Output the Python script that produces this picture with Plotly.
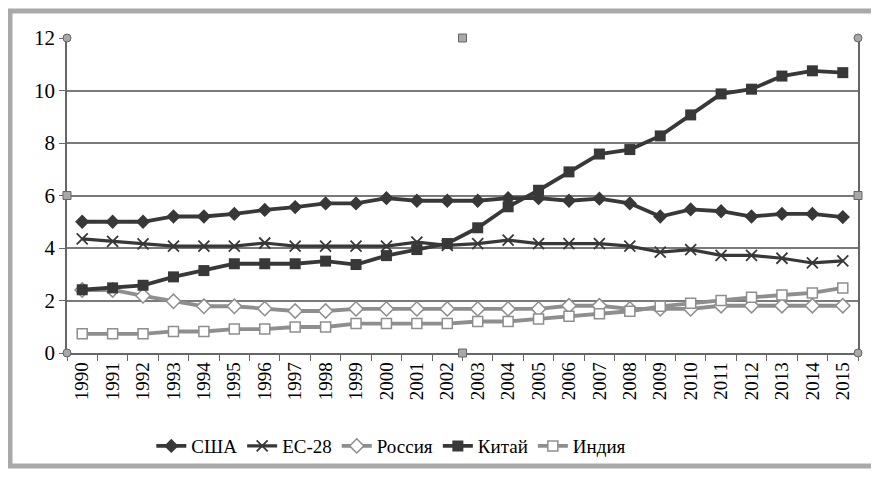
import plotly.graph_objects as go

years = [str(y) for y in range(1990, 2016)]
usa = [5.0, 5.0, 5.0, 5.2, 5.2, 5.3, 5.45, 5.56, 5.7, 5.7, 5.9, 5.8, 5.8, 5.8, 5.9, 5.9, 5.8, 5.88, 5.7, 5.2, 5.47, 5.4, 5.2, 5.3, 5.3, 5.18]
eu28 = [4.35, 4.25, 4.16, 4.07, 4.07, 4.07, 4.19, 4.07, 4.07, 4.07, 4.07, 4.22, 4.1, 4.17, 4.3, 4.17, 4.17, 4.17, 4.07, 3.84, 3.94, 3.72, 3.72, 3.61, 3.43, 3.51]
russia = [2.4, 2.4, 2.18, 1.97, 1.78, 1.78, 1.69, 1.6, 1.6, 1.68, 1.68, 1.68, 1.68, 1.68, 1.68, 1.68, 1.8, 1.8, 1.68, 1.68, 1.68, 1.8, 1.8, 1.8, 1.8, 1.8]
china = [2.41, 2.48, 2.58, 2.9, 3.14, 3.4, 3.4, 3.4, 3.5, 3.37, 3.71, 3.94, 4.17, 4.77, 5.57, 6.2, 6.9, 7.58, 7.75, 8.27, 9.07, 9.87, 10.05, 10.55, 10.75, 10.68]
india = [0.73, 0.73, 0.73, 0.82, 0.82, 0.91, 0.91, 0.99, 0.99, 1.12, 1.12, 1.12, 1.12, 1.2, 1.2, 1.3, 1.4, 1.5, 1.59, 1.78, 1.9, 2.0, 2.12, 2.21, 2.29, 2.48]

DARK = "#383838"
GRAY = "#8e8e8e"
SERIF = "Liberation Serif"

fig = go.Figure()
fig.add_trace(go.Scatter(x=years, y=usa, name="США", mode="lines+markers",
                         line=dict(color=DARK, width=3.8),
                         marker=dict(symbol="diamond", size=11, color=DARK)))
fig.add_trace(go.Scatter(x=years, y=eu28, name="ЕС-28", mode="lines+markers",
                         line=dict(color=DARK, width=3.2),
                         marker=dict(symbol="x-thin", size=11, color=DARK,
                                     line=dict(color=DARK, width=1.8))))
fig.add_trace(go.Scatter(x=years, y=russia, name="Россия", mode="lines+markers",
                         line=dict(color=GRAY, width=3.8),
                         marker=dict(symbol="diamond", size=11, color="white",
                                     line=dict(color=GRAY, width=1.5))))
fig.add_trace(go.Scatter(x=years, y=china, name="Китай", mode="lines+markers",
                         line=dict(color=DARK, width=3.8),
                         marker=dict(symbol="square", size=11, color=DARK)))
fig.add_trace(go.Scatter(x=years, y=india, name="Индия", mode="lines+markers",
                         line=dict(color=GRAY, width=3.8),
                         marker=dict(symbol="square", size=10, color="white",
                                     line=dict(color=GRAY, width=1.5))))

# plot area in window pixels: x 67..858, y 38..353 (width 791, height 315)
shapes = []
shapes.append(dict(type="rect", xref="paper", yref="paper",
                   x0=(10 - 67) / 791, x1=(876 - 67) / 791,
                   y0=(353 - 466) / 315, y1=(353 - 11) / 315,
                   line=dict(color="#a9a9a9", width=5), layer="below"))
for xx, yy, kind in [(0, 0, "circle"), (1, 0, "circle"), (0, 1, "circle"), (1, 1, "circle"),
                     (0.5, 0, "rect"), (0.5, 1, "rect"), (0, 0.5, "rect"), (1, 0.5, "rect")]:
    shapes.append(dict(type=kind, xref="x domain", yref="y domain",
                       xsizemode="pixel", ysizemode="pixel", xanchor=xx, yanchor=yy,
                       x0=-4, x1=4, y0=-4, y1=4,
                       fillcolor="#a8a8a8", line=dict(color="#666666", width=1)))

fig.update_layout(
    width=871, height=469,
    margin=dict(l=59, r=21, t=30, b=124),
    paper_bgcolor="white", plot_bgcolor="white",
    font=dict(family=SERIF, size=20, color="black"),
    showlegend=True,
    legend=dict(orientation="h", x=0.41, y=-0.235, xanchor="center", yanchor="top",
                font=dict(family=SERIF, size=19, color="black"), itemwidth=30,
                bgcolor="rgba(0,0,0,0)", tracegroupgap=0),
    shapes=shapes,
    xaxis=dict(type="category", range=[-0.5, 25.5], tickson="boundaries",
               ticks="outside", ticklen=6, tickcolor="#666666",
               tickangle=-90, tickfont=dict(family=SERIF, size=19, color="black"),
               showline=True, linecolor="#666666", linewidth=1.5,
               showgrid=False, mirror=False, fixedrange=True),
    yaxis=dict(range=[0, 12], dtick=2, ticks="outside", ticklen=6, tickcolor="#666666",
               showline=True, linecolor="#666666", linewidth=1.5, mirror=True,
               showgrid=True, gridcolor="#7a7a7a", gridwidth=1.5, zeroline=False,
               tickfont=dict(family=SERIF, size=21, color="black")),
)

fig.write_html("out.html")
